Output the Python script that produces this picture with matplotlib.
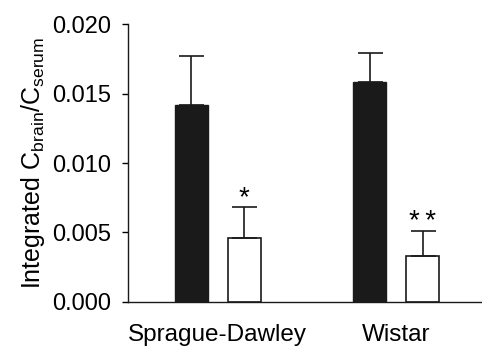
import matplotlib.pyplot as plt
import numpy as np

plt.rcParams['font.family'] = ['Liberation Sans', 'DejaVu Sans']

# data
strains = ['Sprague-Dawley', 'Wistar']
control = [0.0142, 0.0158]
control_err = [0.0035, 0.0021]
treated = [0.0046, 0.0033]
treated_err = [0.0022, 0.0018]
marks = ['*', '*\u2009*']

x = np.arange(len(strains))
w = 0.185
off = 0.148

fig = plt.figure(figsize=(4.82, 3.48), dpi=100)
ax = fig.add_axes([0.2656, 0.1322, 0.7344, 0.7988])

ax.bar(x - off, control, w, color='#1a1a1a', edgecolor='#1a1a1a', linewidth=1)
ax.bar(x + off, treated, w, color='white', edgecolor='#1a1a1a', linewidth=1.2)
ax.errorbar(x - off, control, yerr=[np.zeros(2), control_err], fmt='none',
            ecolor='#1a1a1a', elinewidth=1.2, capsize=9, capthick=1.2)
ax.errorbar(x + off, treated, yerr=[np.zeros(2), treated_err], fmt='none',
            ecolor='#1a1a1a', elinewidth=1.2, capsize=9, capthick=1.2)

for xi, t, e, m in zip(x, treated, treated_err, marks):
    ax.text(xi + off, t + e - 0.0003, m, ha='center', va='bottom', fontsize=20)

ax.set_xlim(-0.502, 1.48)
ax.set_ylim(0, 0.020)
ax.set_yticks([0, 0.005, 0.010, 0.015, 0.020])
ax.set_yticklabels(['0.000', '0.005', '0.010', '0.015', '0.020'])
ax.set_xticks(x)
ax.set_xticklabels(strains)
ax.tick_params(axis='x', length=0, labelsize=17.5, pad=15.5)
ax.tick_params(axis='y', length=4.5, width=1, labelsize=17, pad=8, direction='out')
ax.set_ylabel('Integrated C$_{\\mathregular{brain}}$/C$_{\\mathregular{serum}}$', fontsize=18, labelpad=3)

for s in ['top', 'right']:
    ax.spines[s].set_visible(False)
for s in ['left', 'bottom']:
    ax.spines[s].set_linewidth(1)
    ax.spines[s].set_color('#1a1a1a')

plt.savefig('out.png', dpi=100)
